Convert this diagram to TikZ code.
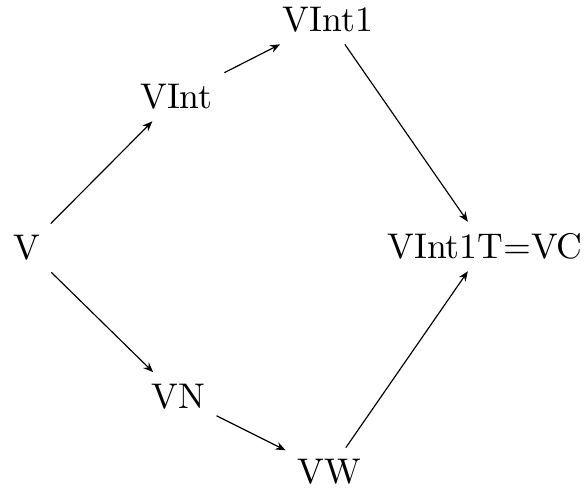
\documentclass[tikz,border=0pt]{standalone}
\usetikzlibrary{arrows.meta}
\begin{document}
\begin{tikzpicture}[x=0.3pt,y=-0.3pt,
  every node/.style={font=\fontsize{10.7}{12.8}\selectfont},
  arr/.style={-{Stealth[length=3pt,width=2.4pt]}, line width=0.35pt}]
\useasboundingbox (0,0) rectangle (584,493);
\node (v)    at (26.5,248) {V};
\node (vi)   at (176.5,97) {VInt};
\node (vi1)  at (328,20)   {VInt1};
\node (vc)   at (485,246.5) {VInt1T=VC};
\node (vn)   at (178,396.5) {VN};
\node (vw)   at (329,472)  {VW};
\draw[arr] (v) -- (vi);
\draw[arr] (vi) -- (vi1);
\draw[arr] (vi1) -- (vc);
\draw[arr] (v) -- (vn);
\draw[arr] (vn) -- (vw);
\draw[arr] (vw) -- (vc);
\end{tikzpicture}
\end{document}
